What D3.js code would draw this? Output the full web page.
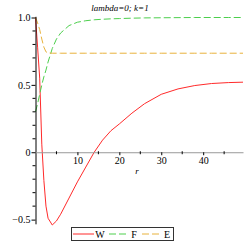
<!DOCTYPE html>
<html>
<head>
<meta charset="utf-8">
<script src="https://d3js.org/d3.v7.min.js"></script>
<style>
  body { margin: 0; background: #fff; }
  text { font-family: "Liberation Serif", "DejaVu Serif", serif; }
</style>
</head>
<body>
<div id="chart"></div>
<script>
// sample points of the solution
var r = [0, 0.5, 1, 1.5, 2, 2.5, 3, 4, 5, 6, 8, 10, 12, 14, 16, 18, 20, 23, 26, 30, 34, 38, 42, 46, 49.5];
var W = [1.0, 0.78, 0.55, 0.06, -0.21, -0.40, -0.49, -0.54, -0.51, -0.46, -0.34, -0.22, -0.11, 0.0, 0.09, 0.16, 0.21, 0.29, 0.36, 0.43, 0.47, 0.495, 0.51, 0.517, 0.52];
var F = [0.30, 0.36, 0.43, 0.50, 0.56, 0.61, 0.67, 0.77, 0.84, 0.885, 0.94, 0.965, 0.976, 0.983, 0.987, 0.99, 0.992, 0.995, 0.997, 0.998, 0.999, 1.0, 1.0, 1.0, 1.0];
var E = [1.0, 0.96, 0.91, 0.84, 0.78, 0.745, 0.737, 0.735, 0.735, 0.735, 0.735, 0.735, 0.735, 0.735, 0.735, 0.735, 0.735, 0.735, 0.735, 0.735, 0.735, 0.735, 0.735, 0.735, 0.735];

var xMajor = [10, 20, 30, 40];
var xMinor = [5, 15, 25, 35, 45];
var yMajor = [-0.5, 0, 0.5, 1.0];
var yMajorLabels = ["\u22120.5", "0", "0.5", "1.0"];
var yMinor = [-0.4, -0.3, -0.2, -0.1, 0.1, 0.2, 0.3, 0.4, 0.6, 0.7, 0.8, 0.9];

var series = [
  {name: "W", values: W, color: "#ff2a2a", dash: null},
  {name: "F", values: F, color: "#4ccf4c", dash: "7,3"},
  {name: "E", values: E, color: "#e8b23c", dash: "7,3"}
];

var width = 245, height = 245;
var svg = d3.select("#chart").append("svg")
  .attr("width", width).attr("height", height);

var x = d3.scaleLinear().domain([0, 49.5]).range([35.5, 243]);
var y = d3.scaleLinear().domain([-0.54, 1.0]).range([225, 17.5]);

// curves
var line = d3.line()
  .x(function(d) { return x(d[0]); })
  .y(function(d) { return y(d[1]); });

series.forEach(function(s) {
  svg.append("path")
    .datum(r.map(function(v, i) { return [v, s.values[i]]; }))
    .attr("fill", "none")
    .attr("stroke", s.color)
    .attr("stroke-width", 1)
    .attr("stroke-dasharray", s.dash)
    .attr("d", line);
});

// y axis
var yAxis = d3.axisLeft(y).tickValues(yMajor)
  .tickFormat(function(d, i) { return yMajorLabels[i]; })
  .tickSize(4).tickSizeOuter(0);
var gy = svg.append("g").attr("transform", "translate(" + x(0) + ",0)").call(yAxis);
gy.selectAll("text").style("font-size", "10px").attr("x", -5);
gy.select(".domain").attr("d", "M0.5," + y(1.005) + "V" + y(-0.535));
gy.selectAll(".yminor").data(yMinor).enter().append("line")
  .attr("x1", -3).attr("x2", 0)
  .attr("y1", function(d) { return y(d); }).attr("y2", function(d) { return y(d); })
  .attr("stroke", "#000");

// x axis at y = 0
var xAxis = d3.axisBottom(x).tickValues(xMajor).tickFormat(d3.format("d"))
  .tickSize(3).tickSizeOuter(0);
var gx = svg.append("g").attr("transform", "translate(0," + y(0) + ")").call(xAxis);
gx.selectAll("text").style("font-size", "10px").attr("y", 5);
gx.select(".domain").attr("stroke", "#999");
gx.selectAll(".xminor").data(xMinor).enter().append("line")
  .attr("x1", function(d) { return x(d); }).attr("x2", function(d) { return x(d); })
  .attr("y1", -1).attr("y2", 2)
  .attr("stroke", "#000");

// labels
svg.append("text")
  .attr("x", 137).attr("y", 174)
  .attr("text-anchor", "middle")
  .style("font-size", "9px").style("font-style", "italic")
  .text("r");

svg.append("text")
  .attr("x", 120).attr("y", 11)
  .attr("text-anchor", "middle")
  .style("font-size", "9px").style("font-style", "italic")
  .text("lambda=0; k=1");

// legend
var legendPos = [{x1: 73, x2: 94, tx: 100}, {x1: 109, x2: 129, tx: 134}, {x1: 142, x2: 162, tx: 167}];
var lg = svg.append("g");
lg.append("rect")
  .attr("x", 71.5).attr("y", 227.5).attr("width", 102).attr("height", 13)
  .attr("fill", "#fff").attr("stroke", "#333");
series.forEach(function(s, i) {
  var p = legendPos[i];
  lg.append("line")
    .attr("x1", p.x1).attr("x2", p.x2).attr("y1", 234).attr("y2", 234)
    .attr("stroke", s.color).attr("stroke-width", 1)
    .attr("stroke-dasharray", s.dash);
  lg.append("text")
    .attr("x", p.tx).attr("y", 238)
    .attr("text-anchor", "middle")
    .style("font-size", "10px")
    .text(s.name);
});
</script>
</body>
</html>
